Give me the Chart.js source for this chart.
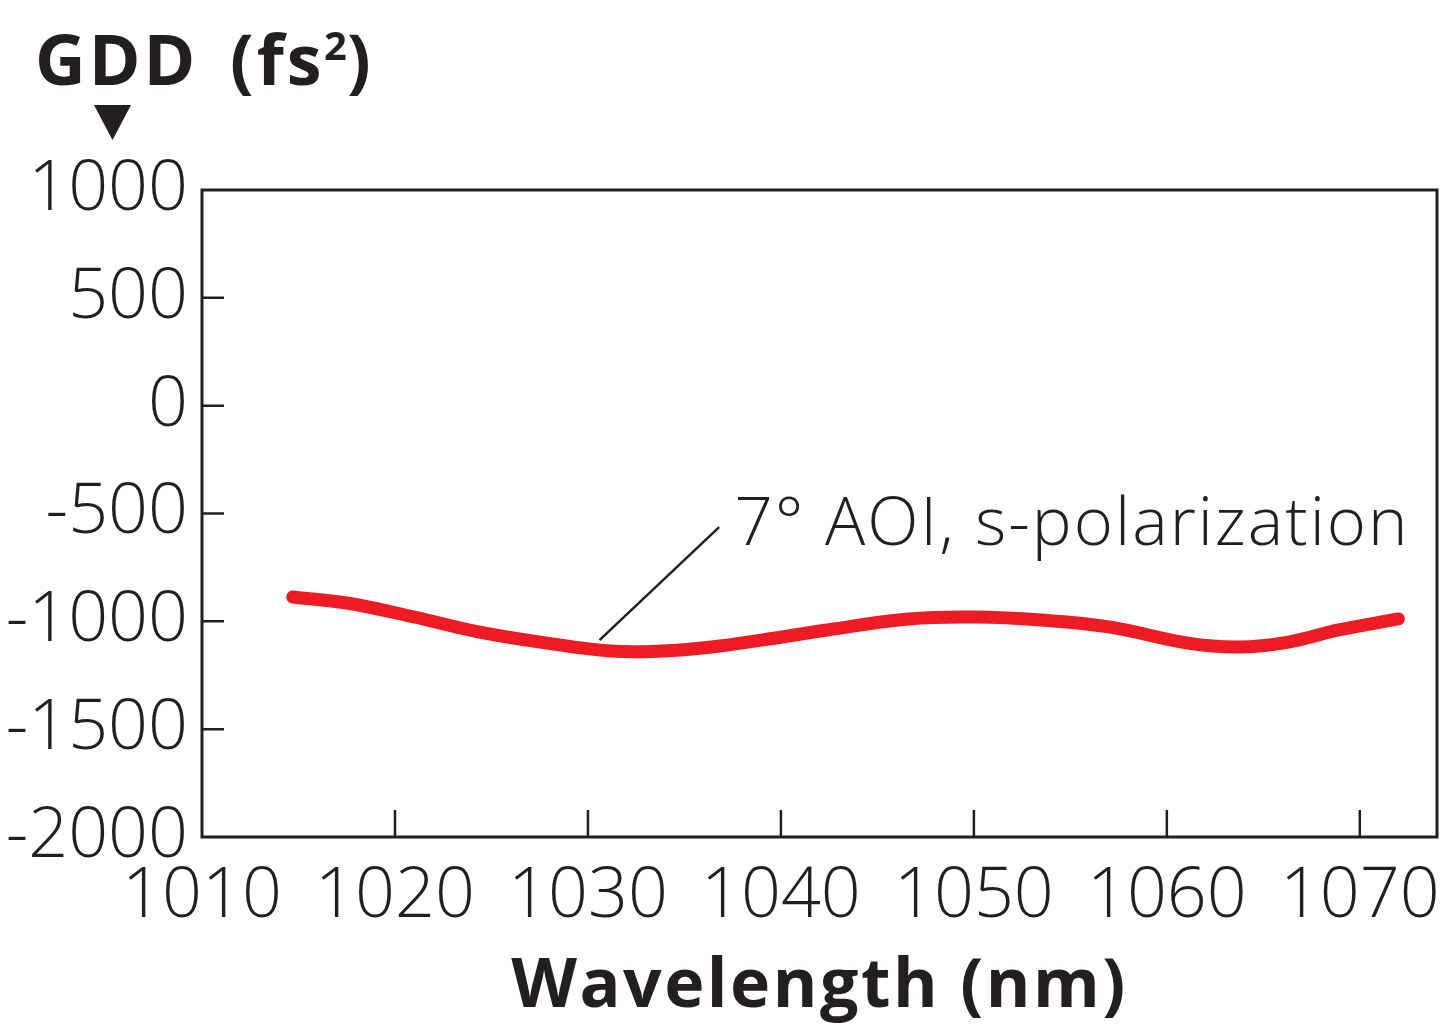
<!DOCTYPE html>
<html>
<head>
<meta charset="utf-8">
<title>GDD vs Wavelength</title>
<script src="https://cdn.jsdelivr.net/npm/chart.js@4.4.1/dist/chart.umd.min.js"></script>
<style>
  html, body { margin: 0; padding: 0; background: #fff; }
  #wrap { width: 1440px; height: 1026px; }
</style>
</head>
<body>
<div id="wrap"><canvas id="gddChart" width="1440" height="1026"></canvas></div>
<script>
// values
const wavelengths = [1014.7, 1017.5, 1021.0, 1024.4, 1027.9, 1031.2, 1033.8, 1036.4, 1039.0, 1042.4,
                     1046.6, 1050.0, 1053.5, 1057.0, 1061.1, 1063.7, 1066.3, 1068.9, 1072.0];
const gddValues   = [-887, -915, -980, -1050, -1101, -1138, -1138, -1119, -1087, -1040,
                     -989, -980, -994, -1026, -1101, -1119, -1096, -1040, -989];
const xTicks = [1010, 1020, 1030, 1040, 1050, 1060, 1070];
const yTicks = [1000, 500, 0, -500, -1000, -1500, -2000];

const ink = '#231F20';
const red = '#ED1C24';
const labelFont = '"Open Sans", "DejaVu Sans", sans-serif';

// frame, inward tick marks, titles and the callout
const decorPlugin = {
    id: 'decor',
    afterDraw(chart) {
        const ctx = chart.ctx;
        const area = chart.chartArea;
        const xs = chart.scales.x;
        const ys = chart.scales.y;
        ctx.save();
        ctx.strokeStyle = ink;
        ctx.lineWidth = 3;
        ctx.strokeRect(area.left, area.top, area.right - area.left, area.bottom - area.top);

        ctx.lineWidth = 2.5;
        ctx.beginPath();
        xTicks.slice(1).forEach(v => {
            const px = xs.getPixelForValue(v);
            ctx.moveTo(px, area.bottom);
            ctx.lineTo(px, area.bottom - 27);
        });
        yTicks.slice(1, -1).forEach(v => {
            const py = ys.getPixelForValue(v);
            ctx.moveTo(area.left, py);
            ctx.lineTo(area.left + 22, py);
        });
        ctx.stroke();

        // y axis title
        ctx.fillStyle = ink;
        ctx.textBaseline = 'alphabetic';
        ctx.textAlign = 'left';
        ctx.font = 'bold 70px ' + labelFont;
        ctx.letterSpacing = '3px';
        ctx.fillText('GDD', 35, 85);
        ctx.fillText('(fs', 230, 85);
        ctx.fillText(')', 347, 85);
        ctx.font = 'bold 40px ' + labelFont;
        ctx.letterSpacing = '0px';
        ctx.fillText('2', 324, 60);

        // little arrow
        ctx.beginPath();
        ctx.moveTo(94, 105);
        ctx.lineTo(131, 105);
        ctx.lineTo(112.5, 140);
        ctx.closePath();
        ctx.fill();

        // x axis title
        ctx.textAlign = 'center';
        ctx.font = 'bold 68px ' + labelFont;
        ctx.letterSpacing = '2.5px';
        ctx.fillText('Wavelength (nm)', (area.left + area.right) / 2, 1007);

        // callout
        ctx.textAlign = 'left';
        ctx.lineWidth = 2.5;
        ctx.beginPath();
        ctx.moveTo(xs.getPixelForValue(1030.6), ys.getPixelForValue(-1087));
        ctx.lineTo(xs.getPixelForValue(1036.8), ys.getPixelForValue(-563));
        ctx.stroke();
        ctx.font = '300 67px ' + labelFont;
        ctx.letterSpacing = '2px';
        ctx.fillText('7° AOI, s-polarization', xs.getPixelForValue(1037.6), ys.getPixelForValue(-646));
        ctx.restore();
    }
};

const ctx = document.getElementById('gddChart').getContext('2d');
new Chart(ctx, {
    type: 'line',
    data: {
        datasets: [{
            data: wavelengths.map((w, i) => ({ x: w, y: gddValues[i] })),
            borderColor: red,
            borderWidth: 13,
            borderCapStyle: 'round',
            borderJoinStyle: 'round',
            tension: 0.4,
            pointRadius: 0,
            fill: false
        }]
    },
    options: {
        responsive: false,
        animation: false,
        devicePixelRatio: 1,
        layout: { padding: { top: 190, right: 3, left: 0, bottom: 0 } },
        plugins: {
            legend: { display: false },
            tooltip: { enabled: false }
        },
        scales: {
            x: {
                type: 'linear',
                min: 1010,
                max: 1074,
                grid: { display: false, drawTicks: false },
                border: { display: false },
                afterBuildTicks: s => { s.ticks = xTicks.map(v => ({ value: v })); },
                afterFit: s => { s.height = 189; s.paddingLeft = 0; s.paddingRight = 0; },
                ticks: {
                    color: ink,
                    padding: 18,
                    maxRotation: 0,
                    font: { family: labelFont, size: 70, weight: '300' },
                    callback: v => String(v)
                }
            },
            y: {
                type: 'linear',
                min: -2000,
                max: 1000,
                grid: { display: false, drawTicks: false },
                border: { display: false },
                afterBuildTicks: s => { s.ticks = yTicks.map(v => ({ value: v })); },
                afterFit: s => { s.width = 202; s.paddingTop = 0; s.paddingBottom = 0; },
                ticks: {
                    color: ink,
                    padding: 14,
                    font: { family: labelFont, size: 70, weight: '300' },
                    callback: v => String(v)
                }
            }
        }
    },
    plugins: [decorPlugin]
});
</script>
</body>
</html>
